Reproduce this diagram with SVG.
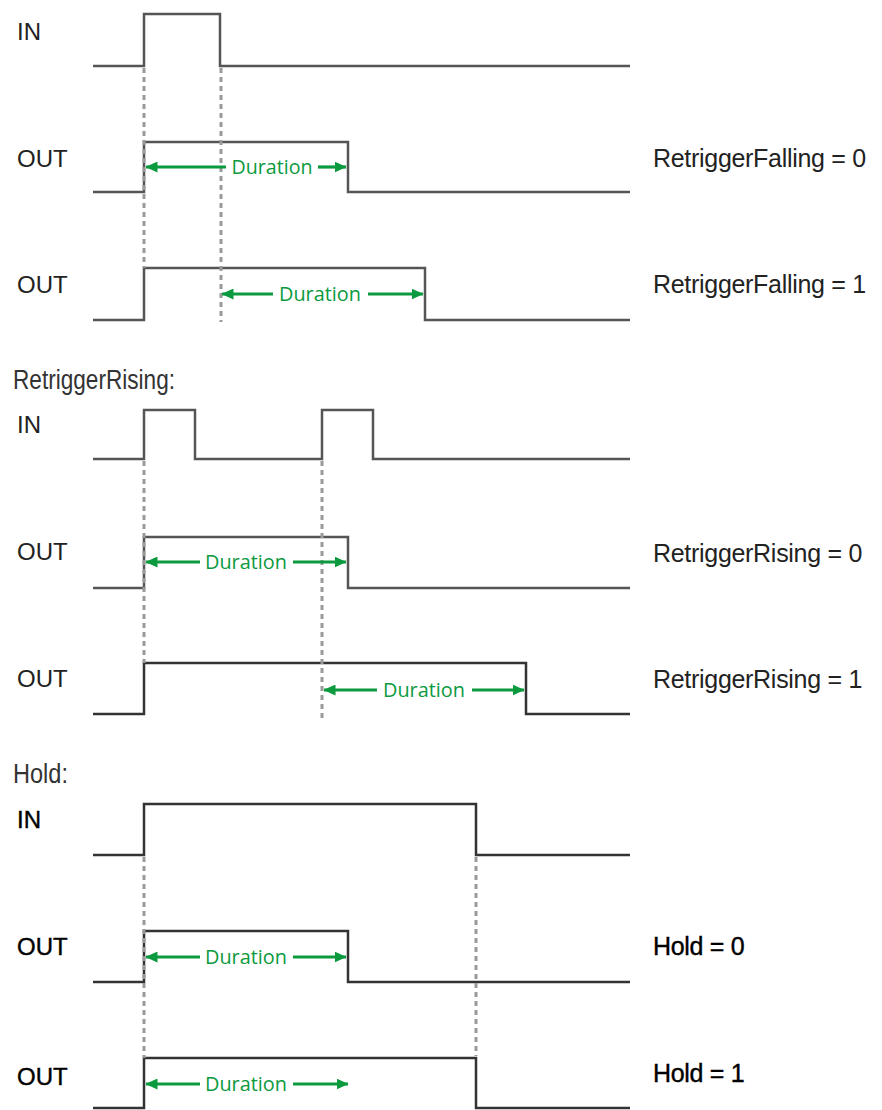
<svg xmlns="http://www.w3.org/2000/svg" width="882" height="1110" viewBox="0 0 882 1110">
<defs>
<marker id="ah" viewBox="0 0 12 11" refX="11.5" refY="5.5" markerWidth="12" markerHeight="11" markerUnits="userSpaceOnUse" orient="auto-start-reverse">
<path d="M0,0 L12,5.5 L0,11 z" fill="#0b9a3e"/>
</marker>
<style>
.sig{fill:none;stroke:#555;stroke-width:2.5;stroke-linejoin:miter}
.sigd{fill:none;stroke:#333;stroke-width:2.5}
.dot{stroke:#9a9a9a;stroke-width:3;stroke-dasharray:5 4;fill:none}
.arr{stroke:#0b9a3e;stroke-width:3.2;fill:none}
.lbl{font-family:"Liberation Sans",Arial,sans-serif;font-size:24px;fill:#222}
.lblb{font-family:"Liberation Sans",Arial,sans-serif;font-size:24px;fill:#000;stroke:#000;stroke-width:0.4}
.rl{font-family:"Liberation Sans",Arial,sans-serif;font-size:25px;fill:#222;letter-spacing:-0.3px}
.rlb{font-family:"Liberation Sans",Arial,sans-serif;font-size:25px;fill:#000;stroke:#000;stroke-width:0.4;letter-spacing:-0.3px}
.dur{font-family:"Open Sans","Liberation Sans",sans-serif;font-size:20px;fill:#0b9a3e}
.ttl{font-family:"Liberation Sans",Arial,sans-serif;font-size:27px;fill:#333}
</style>
</defs>
<rect width="882" height="1110" fill="#fff"/>

<g id="sec1">
<g id="s1-in"><text class="lbl" x="17" y="40">IN</text><path class="sig" d="M93,66 H144 V14 H220 V66 H630"/></g>
<g id="s1-out0"><text class="lbl" x="17" y="167">OUT</text><path class="sig" d="M93,192 H144 V142 H348 V192 H630"/><text class="rl" x="653" y="167">RetriggerFalling = 0</text></g>
<g id="s1-out1"><text class="lbl" x="17" y="293">OUT</text><path class="sig" d="M93,320 H144 V268 H425 V320 H630"/><text class="rl" x="653" y="293">RetriggerFalling = 1</text></g>
</g>

<g id="sec2">
<text class="ttl" x="13" y="389" textLength="162" lengthAdjust="spacingAndGlyphs">RetriggerRising:</text>
<g id="s2-in"><text class="lbl" x="17" y="433">IN</text><path class="sig" d="M93,459 H144 V410 H195 V459 H322 V410 H373 V459 H630"/></g>
<g id="s2-out0"><text class="lbl" x="17" y="560">OUT</text><path class="sig" d="M93,588 H144 V537 H348 V588 H630"/><text class="rl" x="653" y="562">RetriggerRising = 0</text></g>
<g id="s2-out1"><text class="lbl" x="17" y="687">OUT</text><path class="sigd" d="M93,714 H144 V663 H526 V714 H630"/><text class="rl" x="653" y="688">RetriggerRising = 1</text></g>
</g>

<g id="sec3">
<text class="ttl" x="13" y="783" textLength="55" lengthAdjust="spacingAndGlyphs">Hold:</text>
<g id="s3-in"><text class="lblb" x="17" y="828">IN</text><path class="sigd" d="M93,855 H144 V804 H476 V855 H630"/></g>
<g id="s3-out0"><text class="lblb" x="17" y="955">OUT</text><path class="sigd" d="M93,982 H144 V931 H348 V982 H630"/><text class="rlb" x="653" y="955">Hold = 0</text></g>
<g id="s3-out1"><text class="lblb" x="17" y="1085">OUT</text><path class="sigd" d="M93,1108 H144 V1058 H476 V1108 H630"/><text class="rlb" x="653" y="1082">Hold = 1</text></g>
</g>

<g id="connectors">
<line class="dot" x1="144" y1="68" x2="144" y2="268"/>
<line class="dot" x1="221" y1="68" x2="221" y2="322"/>
<line class="dot" x1="144" y1="461" x2="144" y2="663"/>
<line class="dot" x1="322" y1="461" x2="322" y2="718"/>
<line class="dot" x1="144" y1="857" x2="144" y2="1058"/>
<line class="dot" x1="476" y1="857" x2="476" y2="1056"/>

<line class="arr" x1="146" y1="167" x2="226" y2="167" marker-start="url(#ah)"/>
<line class="arr" x1="318" y1="167" x2="346" y2="167" marker-end="url(#ah)"/>
<text class="dur" x="272" y="174" text-anchor="middle" textLength="81" lengthAdjust="spacingAndGlyphs">Duration</text>

<line class="arr" x1="222" y1="294" x2="273" y2="294" marker-start="url(#ah)"/>
<line class="arr" x1="368" y1="294" x2="423" y2="294" marker-end="url(#ah)"/>
<text class="dur" x="320" y="301" text-anchor="middle" textLength="82" lengthAdjust="spacingAndGlyphs">Duration</text>

<line class="arr" x1="146" y1="562" x2="200" y2="562" marker-start="url(#ah)"/>
<line class="arr" x1="293" y1="562" x2="346" y2="562" marker-end="url(#ah)"/>
<text class="dur" x="246" y="569" text-anchor="middle" textLength="82" lengthAdjust="spacingAndGlyphs">Duration</text>

<line class="arr" x1="324" y1="690" x2="377" y2="690" marker-start="url(#ah)"/>
<line class="arr" x1="472" y1="690" x2="524" y2="690" marker-end="url(#ah)"/>
<text class="dur" x="424" y="697" text-anchor="middle" textLength="82" lengthAdjust="spacingAndGlyphs">Duration</text>

<line class="arr" x1="146" y1="957" x2="200" y2="957" marker-start="url(#ah)"/>
<line class="arr" x1="293" y1="957" x2="346" y2="957" marker-end="url(#ah)"/>
<text class="dur" x="246" y="964" text-anchor="middle" textLength="82" lengthAdjust="spacingAndGlyphs">Duration</text>

<line class="arr" x1="146" y1="1084" x2="200" y2="1084" marker-start="url(#ah)"/>
<line class="arr" x1="293" y1="1084" x2="348" y2="1084" marker-end="url(#ah)"/>
<text class="dur" x="246" y="1091" text-anchor="middle" textLength="82" lengthAdjust="spacingAndGlyphs">Duration</text>
</g>
</svg>
